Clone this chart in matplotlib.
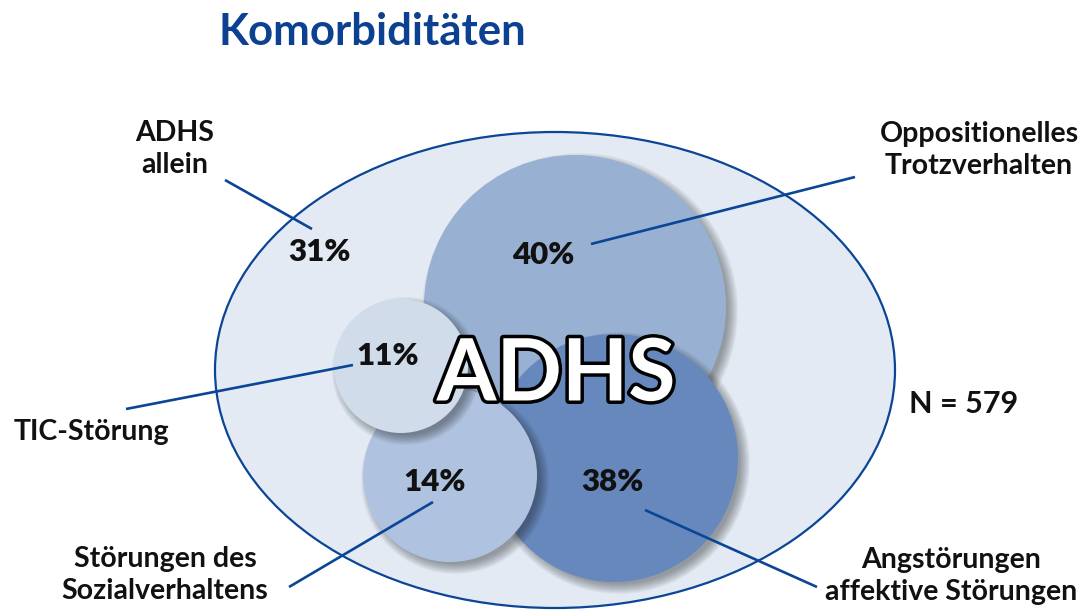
import numpy as np
import matplotlib
matplotlib.use("Agg")
import matplotlib.pyplot as plt
from matplotlib.patches import Circle, Ellipse
import matplotlib.patheffects as pe

# ---------------------------------------------------------------------------
# daten
titel = "Komorbiditäten"
mitte_text = "ADHS"
kategorien = ["ADHS\nallein", "Oppositionelles\nTrotzverhalten", "TIC-Störung",
              "Störungen des\nSozialverhaltens", "Angstörungen\naffektive Störungen"]
prozente = [31, 40, 11, 14, 38]
n_gesamt = 579

# ---------------------------------------------------------------------------
# layout (pixel-koordinaten, y nach unten)
blau = "#0b4596"
ellipse_mitte = (555, 370)
ellipse_breite, ellipse_hoehe = 680, 476

# kreise: opp, angst, sozial, tic (zeichenreihenfolge)
kreis_mitte = {1: (575, 306), 4: (614, 458), 3: (450, 475), 2: (401, 366)}
kreis_radius = {1: 151, 4: 124, 3: 87, 2: 67}
kreis_farbe = {1: "#98b1d3", 4: "#6688bd", 3: "#afc2df", 2: "#d0dcea"}
reihenfolge = [1, 4, 3, 2]

prozent_pos = [(320, 252), (543, 255), (388, 356), (435, 482), (612, 482)]
label_pos = [(175, 149), (979, 150), (91, 432), (165, 575), (951, 576)]
linien = [((225, 180), (312, 229)), ((855, 177), (591, 244)), ((126, 409), (353, 365)),
          ((289, 587), (433, 502)), ((645, 510), (817, 587))]

plt.rcParams['font.family'] = ['Lato', 'DejaVu Sans']

fig = plt.figure(figsize=(10.86, 6.12), dpi=100)
ax = fig.add_axes([0, 0, 1, 1])
ax.set_xlim(0, 1086)
ax.set_ylim(612, 0)
ax.axis("off")

# grosse ellipse
ax.add_patch(Ellipse(ellipse_mitte, ellipse_breite, ellipse_hoehe, facecolor="#e3eaf4",
                     edgecolor=blau, linewidth=1.6, zorder=1))

z = 2
for k in reihenfolge:
    cx, cy = kreis_mitte[k]
    r = kreis_radius[k]
    # weicher schatten
    for d in np.arange(7, -4, -1):
        ax.add_patch(Circle((cx + 5, cy + 5), r + d, facecolor="#202020",
                            edgecolor="none", alpha=0.045, zorder=z))
    ax.add_patch(Circle((cx, cy), r, facecolor=kreis_farbe[k], edgecolor="none", zorder=z + 0.5))
    z += 1

# hinweislinien
for (a, b) in linien:
    ax.plot([a[0], b[0]], [a[1], b[1]], color=blau, linewidth=1.9, zorder=10,
            solid_capstyle="butt")

# prozentwerte
for (x, y), p in zip(prozent_pos, prozente):
    ax.text(x, y, f"{p}%", ha="center", va="center", fontsize=22.5, fontweight="heavy",
            color="#111111", zorder=11)

# beschriftungen
for (x, y), t in zip(label_pos, kategorien):
    ax.text(x, y, t, ha="center", va="center", fontsize=20.5, fontweight="bold",
            color="#111111", linespacing=1.3, zorder=11)

ax.text(964, 404, f"N = {n_gesamt}", ha="center", va="center", fontsize=22,
        fontweight="bold", color="#111111", zorder=11)

# ADHS in der mitte
ax.text(556, 376, mitte_text, ha="center", va="center", fontsize=62, fontweight="bold",
        color="white", zorder=12,
        path_effects=[pe.withStroke(linewidth=5, foreground="black")])

# titel
ax.text(372, 32, titel, ha="center", va="center", fontsize=31.5, fontweight="bold",
        color="#0b4190")

fig.savefig("out.png", dpi=100)
